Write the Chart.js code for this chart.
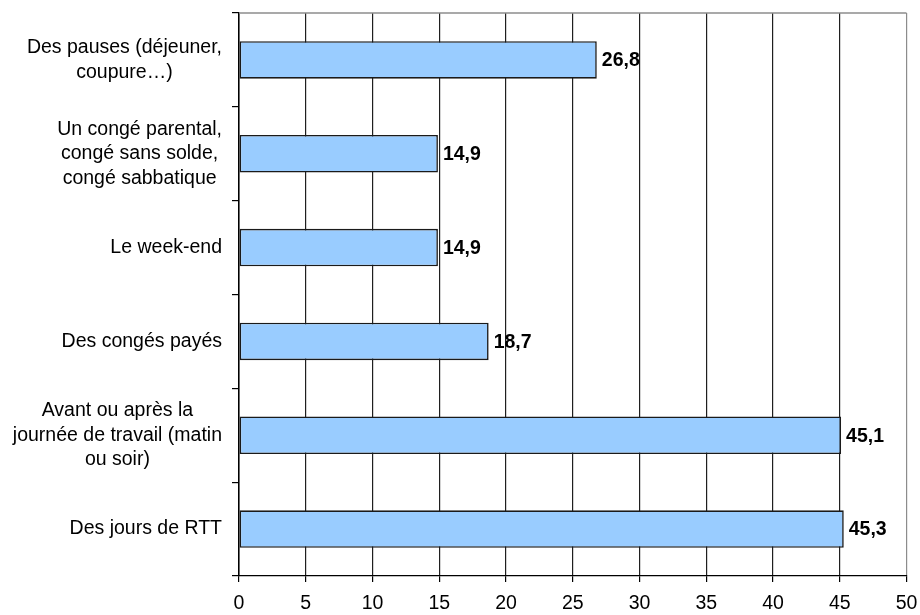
<!DOCTYPE html>
<html>
<head>
<meta charset="utf-8">
<script src="https://cdn.jsdelivr.net/npm/chart.js@4/dist/chart.umd.min.js"></script>
<style>
  html, body { margin: 0; padding: 0; background: #fff; }
  #wrap { width: 920px; height: 615px; }
</style>
</head>
<body>
<div id="wrap"><canvas id="c" width="920" height="615"></canvas></div>
<script>
// Moments used, in percent
const categories = [
  ['Des pauses (déjeuner,', 'coupure…)'],
  ['Un congé parental,', 'congé sans solde,', 'congé sabbatique'],
  ['Le week-end'],
  ['Des congés payés'],
  ['Avant ou après la', 'journée de travail (matin', 'ou soir)'],
  ['Des jours de RTT']
];
const values = [26.8, 14.9, 14.9, 18.7, 45.1, 45.3];
const xTicks = [0, 5, 10, 15, 20, 25, 30, 35, 40, 45, 50];

const FONT = '"Liberation Sans", Arial, sans-serif';
const FONT_SIZE = 19.5;

// Category labels: each block is right-aligned against the axis, lines centred within it
const categoryLabels = {
  id: 'categoryLabels',
  afterDraw(chart) {
    const ctx = chart.ctx;
    const y = chart.scales.y;
    ctx.save();
    ctx.font = FONT_SIZE + 'px ' + FONT;
    ctx.fillStyle = '#000';
    ctx.textAlign = 'center';
    ctx.textBaseline = 'middle';
    const lh = 24.5;
    categories.forEach((lines, i) => {
      const w = Math.max(...lines.map(l => ctx.measureText(l).width));
      const cx = y.right - 17 - w / 2;
      const cy = y.getPixelForValue(i);
      lines.forEach((l, k) => {
        ctx.fillText(l, cx, cy + (k - (lines.length - 1) / 2) * lh);
      });
    });
    ctx.restore();
  }
};

// Value printed after the end of each bar
const valueLabels = {
  id: 'valueLabels',
  afterDatasetsDraw(chart) {
    const ctx = chart.ctx;
    const meta = chart.getDatasetMeta(0);
    ctx.save();
    ctx.font = 'bold ' + FONT_SIZE + 'px ' + FONT;
    ctx.fillStyle = '#000';
    ctx.textAlign = 'left';
    ctx.textBaseline = 'middle';
    meta.data.forEach((bar, i) => {
      ctx.fillText(values[i].toFixed(1).replace('.', ','), bar.x + 5, bar.y + 1);
    });
    ctx.restore();
  }
};

// Grey top edge of the plot frame
const frameTop = {
  id: 'frameTop',
  beforeDatasetsDraw(chart) {
    const a = chart.chartArea;
    const ctx = chart.ctx;
    ctx.save();
    ctx.strokeStyle = '#8c8c8c';
    ctx.lineWidth = 1.5;
    ctx.beginPath();
    ctx.moveTo(a.left, a.top);
    ctx.lineTo(a.right, a.top);
    ctx.stroke();
    ctx.restore();
  }
};

new Chart(document.getElementById('c'), {
  type: 'bar',
  data: {
    labels: categories.map(c => c.join(' ')),
    datasets: [{
      data: values,
      backgroundColor: '#99ccff',
      borderColor: '#1a1a1a',
      borderWidth: 1.6,
      borderSkipped: false,
      barPercentage: 0.4,
      categoryPercentage: 1
    }]
  },
  options: {
    indexAxis: 'y',
    responsive: false,
    animation: false,
    devicePixelRatio: 1,
    layout: { padding: { top: 13, right: 0, left: 0, bottom: 0 } },
    plugins: { legend: { display: false }, tooltip: { enabled: false } },
    scales: {
      x: {
        min: 0, max: 50,
        afterBuildTicks(s) { s.ticks = xTicks.map(v => ({ value: v })); },
        afterFit(s) { s.height = 39; s.paddingRight = 13.5; },
        ticks: {
          font: { family: FONT, size: FONT_SIZE },
          color: '#000',
          padding: 10,
          maxRotation: 0,
          callback: v => String(v)
        },
        grid: {
          color: c => (c.index === xTicks.length - 1 ? '#8c8c8c' : '#1f1f1f'),
          lineWidth: 1.2,
          tickLength: 6,
          tickColor: '#000'
        },
        border: { color: '#000', width: 1.2 }
      },
      y: {
        afterFit(s) { s.width = 239; },
        ticks: { display: false },
        grid: {
          drawOnChartArea: false,
          offset: true,
          tickLength: 7,
          color: '#000',
          lineWidth: 1.2
        },
        border: { color: '#000', width: 1.5 }
      }
    }
  },
  plugins: [frameTop, valueLabels, categoryLabels]
});
</script>
</body>
</html>
